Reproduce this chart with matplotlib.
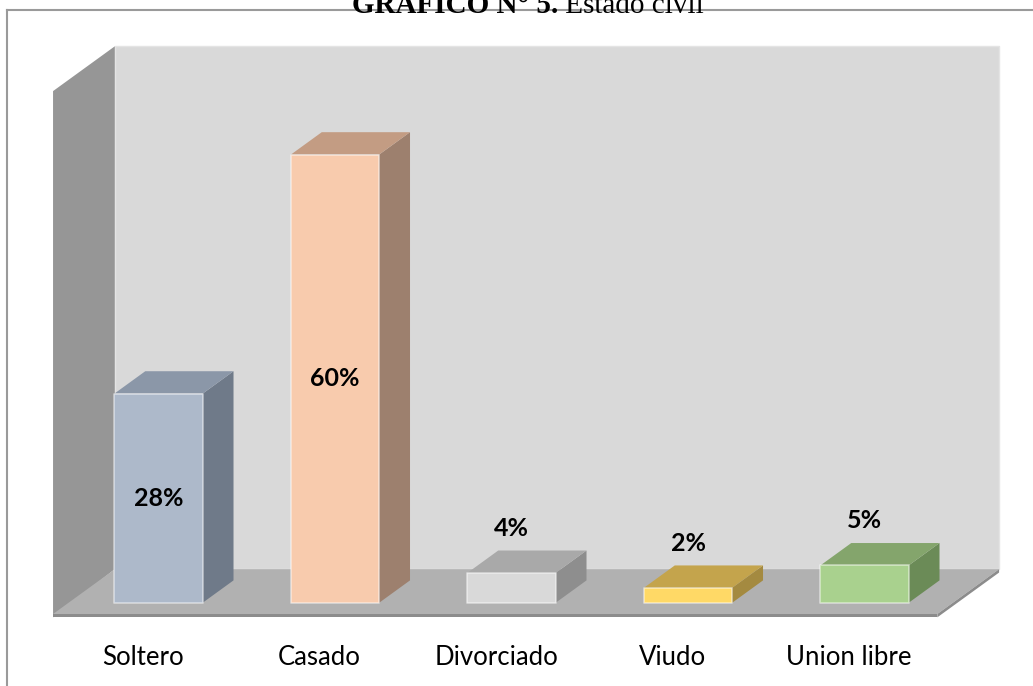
import matplotlib
matplotlib.use('Agg')
import matplotlib.pyplot as plt
from matplotlib.patches import Polygon
from matplotlib.lines import Line2D

# ---------------- data ----------------
categories = ['Soltero', 'Casado', 'Divorciado', 'Viudo', 'Union libre']
values = [28, 60, 4, 2, 5]
value_labels = ['28%', '60%', '4%', '2%', '5%']
front_colors = ['#adb9ca', '#f8cbad', '#d9d9d9', '#ffd966', '#a9d18e']
top_colors = ['#8b97a8', '#c39c83', '#a9a9a9', '#c4a44c', '#84a56c']
side_colors = ['#6f7a89', '#9d806e', '#8e8e8e', '#a48a40', '#6b8b57']
title_bold = 'GRÁFICO N° 5.'
title_rest = ' Estado civil'
y_max = 70

# ---------------- figure ----------------
W, H = 1033, 686
fig = plt.figure(figsize=(W / 100, H / 100), dpi=100)
ax = fig.add_axes([0, 0, 1, 1])
ax.set_axis_off()

# oblique projection of the 3D box (depth z in [0, 1])
DX, DY = 0.35, 6.0
Z0, Z1 = 0.25, 0.75
BAR_W = 0.5


def P(x, y, z):
    return (x + z * DX, y + z * DY)


px_x, px_y = 176.5, 7.47
x0_pix, y0_pix = 158.5, H - 614
ax.set_xlim(-x0_pix / px_x, (W - x0_pix) / px_x)
ax.set_ylim(-y0_pix / px_y, (H - y0_pix) / px_y)

n = len(categories)
centers = [i - Z0 * DX for i in range(n)]
xl = centers[0] - 0.51
xr = centers[-1] + 0.50
t = 0.45


def poly(pts, color, z, ec='none', lw=0):
    ax.add_patch(Polygon(pts, closed=True, facecolor=color, edgecolor=ec,
                         linewidth=lw, zorder=z, joinstyle='round'))


# back wall
poly([P(xl, 0, 1), P(xr, 0, 1), P(xr, y_max, 1), P(xl, y_max, 1)], '#d9d9d9', 1,
     ec='#e4e4e4', lw=1)
# side wall
poly([P(xl, -t, 0), P(xl, 0, 1), P(xl, y_max, 1), P(xl, y_max, 0)], '#969696', 2)
# floor
poly([P(xl, 0, 0), P(xr, 0, 0), P(xr, 0, 1), P(xl, 0, 1)], '#b1b1b1', 3)
poly([P(xl, 0, 0), P(xr, 0, 0), P(xr, -t, 0), P(xl, -t, 0)], '#8c8c8c', 3)
poly([P(xr, 0, 0), P(xr, 0, 1), P(xr, -t, 1), P(xr, -t, 0)], '#8c8c8c', 3)

# bars
for i, v in enumerate(values):
    xa, xb = centers[i] - BAR_W / 2, centers[i] + BAR_W / 2
    poly([P(xb, 0, Z0), P(xb, 0, Z1), P(xb, v, Z1), P(xb, v, Z0)], side_colors[i], 5)
    poly([P(xa, v, Z0), P(xb, v, Z0), P(xb, v, Z1), P(xa, v, Z1)], top_colors[i], 5)
    poly([P(xa, 0, Z0), P(xb, 0, Z0), P(xb, v, Z0), P(xa, v, Z0)], front_colors[i], 6,
         ec='#ffffff80', lw=1.2)
    if v >= 10:
        lx, ly = P(centers[i], v / 2, Z0)
    else:
        lx, ly = P(centers[i], v + 6, Z0)
    ax.text(lx, ly, value_labels[i], ha='center', va='center', fontsize=18,
            fontweight='bold', family='Lato', color='black', zorder=10)
    cx, cy = P(centers[i], -5.8, 0)
    ax.text(cx, cy, categories[i], ha='center', va='center', fontsize=18.5,
            family='Lato', color='black', zorder=10)

# outer frame (left and top visible)
fig.add_artist(Line2D([7 / W, 7 / W], [0, 1 - 10 / H], transform=fig.transFigure,
                      color='#9a9a9a', lw=1.5))
fig.add_artist(Line2D([7 / W, 1], [1 - 10 / H, 1 - 10 / H], transform=fig.transFigure,
                      color='#9a9a9a', lw=1.5))

# title (partly cut off at the top, as in the reference)
t1 = fig.text(0, 1 - 13 / H, title_bold, family='Liberation Serif', fontweight='bold',
              fontsize=21, va='baseline', ha='left')
t2 = fig.text(0, 1 - 13 / H, title_rest, family='Liberation Serif', fontsize=21,
              va='baseline', ha='left')
fig.canvas.draw()
r = fig.canvas.get_renderer()
w1 = t1.get_window_extent(r).width
w2 = t2.get_window_extent(r).width
start = 528 - (w1 + w2) / 2
t1.set_x(start / W)
t2.set_x((start + w1) / W)

fig.savefig('out.png', dpi=100)
